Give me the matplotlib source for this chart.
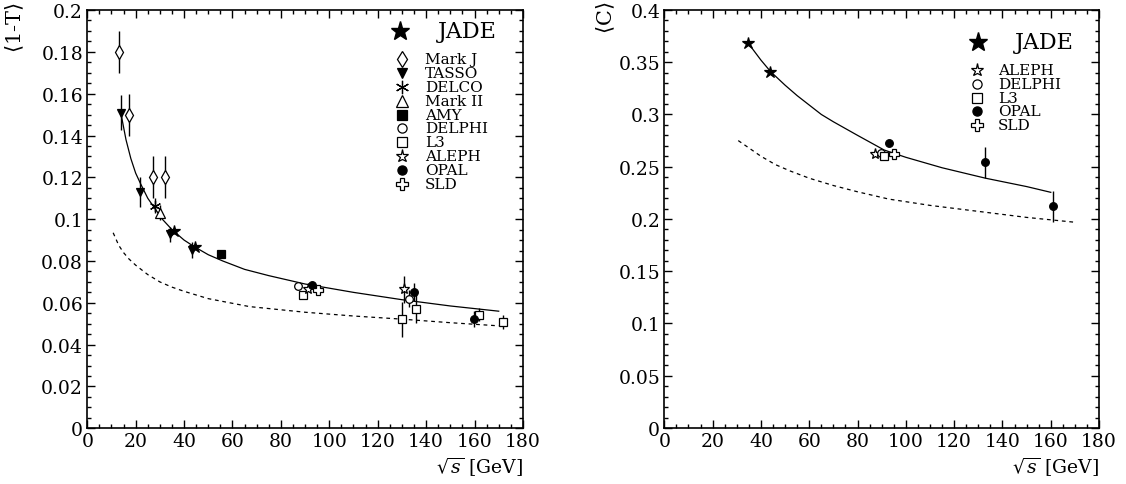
import matplotlib
matplotlib.use("Agg")
from matplotlib import pyplot as plt
from matplotlib.ticker import MultipleLocator, FormatStrFormatter

plt.rcParams['font.family'] = ['DejaVu Serif', 'Liberation Serif']
plt.rcParams['mathtext.fontset'] = 'dejavuserif'

# ---- <1-T> measurements: sqrt(s) [GeV], mean value, error ----
jade_t_x = [35.8, 44.6]
jade_t_y = [0.0943, 0.0866]
jade_t_e = [0.0015, 0.0015]

markj_x = [13.0, 17.1, 27.0, 32.1]
markj_y = [0.180, 0.150, 0.120, 0.120]
markj_e = [0.010, 0.010, 0.010, 0.010]

tasso_x = [13.9, 21.9, 34.1, 43.1]
tasso_y = [0.1509, 0.1129, 0.0928, 0.0853]
tasso_e = [0.0085, 0.0072, 0.0036, 0.0040]

delco_x = [27.8]
delco_y = [0.1065]
delco_e = [0.0037]

mark2_x = [29.9]
mark2_y = [0.1030]
mark2_e = [0.0036]

amy_x = [55.3]
amy_y = [0.0832]
amy_e = [0.0012]

delphi_t_x = [87.1, 132.8]
delphi_t_y = [0.0682, 0.0619]
delphi_t_e = [0.0008, 0.0040]

l3_t_x = [89.2, 129.9, 135.8, 161.9, 171.8]
l3_t_y = [0.0639, 0.0521, 0.0572, 0.0544, 0.0509]
l3_t_e = [0.0015, 0.0083, 0.0070, 0.0030, 0.0035]

aleph_t_x = [91.2, 130.9]
aleph_t_y = [0.0667, 0.0665]
aleph_t_e = [0.0010, 0.0064]

opal_t_x = [93.0, 134.9, 159.8]
opal_t_y = [0.0686, 0.0652, 0.0523]
opal_t_e = [0.0010, 0.0045, 0.0040]

sld_t_x = [95.4]
sld_t_y = [0.0663]
sld_t_e = [0.0012]

# fit (solid) and hadronisation-free (dashed) curves for <1-T>
fit_t_x = [14, 16, 18, 20, 22, 25, 28, 31, 35, 40, 44, 50, 56, 65, 75, 90, 110, 130, 150, 170]
fit_t_y = [0.150, 0.138, 0.129, 0.122, 0.117, 0.110, 0.105, 0.100, 0.095, 0.090, 0.087,
           0.083, 0.080, 0.076, 0.073, 0.069, 0.065, 0.0615, 0.0585, 0.056]
pt_t_x = [10.7, 13, 15, 17.2, 20, 25, 30, 35, 40, 50, 67, 90, 110, 130, 150, 170]
pt_t_y = [0.0935, 0.0875, 0.0840, 0.0810, 0.0780, 0.0735, 0.0700, 0.0675, 0.0655, 0.0620,
          0.0582, 0.0555, 0.0537, 0.0522, 0.0505, 0.0490]

# ---- <C> measurements ----
jade_c_x = [34.8, 43.8]
jade_c_y = [0.368, 0.341]
jade_c_e = [0.002, 0.002]

aleph_c_x = [87.2]
aleph_c_y = [0.262]
aleph_c_e = [0.001]

delphi_c_x = [89.5]
delphi_c_y = [0.263]
delphi_c_e = [0.001]

l3_c_x = [91.0]
l3_c_y = [0.2606]
l3_c_e = [0.003]

opal_c_x = [93.2, 132.9, 161.1]
opal_c_y = [0.2727, 0.2542, 0.2121]
opal_c_e = [0.001, 0.015, 0.015]

sld_c_x = [95.1]
sld_c_y = [0.2625]
sld_c_e = [0.001]

fit_c_x = [34.8, 40, 44, 50, 55, 60, 65, 70, 80, 91, 100, 115, 133, 150, 160]
fit_c_y = [0.368, 0.352, 0.341, 0.328, 0.318, 0.309, 0.300, 0.293, 0.280, 0.266,
           0.259, 0.249, 0.239, 0.231, 0.2255]
pt_c_x = [30.6, 35, 40, 46, 52, 60, 70, 80, 93, 110, 133, 150, 169.4]
pt_c_y = [0.275, 0.268, 0.260, 0.252, 0.246, 0.239, 0.232, 0.226, 0.219, 0.213,
          0.2064, 0.2015, 0.197]

# marker styles (ROOT-like)
STYLES = {
    "JADE":    dict(marker="*", mfc="black", ms=9),
    "Mark J":  dict(marker="d", mfc="white", ms=7),
    "TASSO":   dict(marker="v", mfc="black", ms=6),
    "DELCO":   dict(marker=(6, 2, 0), mfc="black", ms=8),
    "Mark II": dict(marker="^", mfc="white", ms=7),
    "AMY":     dict(marker="s", mfc="black", ms=5.5),
    "DELPHI":  dict(marker="o", mfc="white", ms=5.5),
    "L3":      dict(marker="s", mfc="white", ms=5.5),
    "ALEPH":   dict(marker="*", mfc="white", ms=8),
    "OPAL":    dict(marker="o", mfc="black", ms=5.5),
    "SLD":     dict(marker="P", mfc="white", ms=7),
}


def draw_points(ax, name, x, y, e):
    st = STYLES[name]
    ax.errorbar(x, y, yerr=e, fmt="none", ecolor="black", elinewidth=1.0, capsize=0, zorder=2)
    ax.plot(x, y, ls="none", marker=st["marker"], mfc=st["mfc"], mec="black",
            mew=0.9, ms=st["ms"], zorder=3)


def draw_legend(ax, names, star_xy, text_x, mark_x, y0, dy):
    ax.plot([star_xy[0]], [star_xy[1]], marker="*", color="black", ms=14,
            transform=ax.transAxes, clip_on=False)
    ax.text(text_x[0], star_xy[1], "JADE", fontsize=16, va="center", ha="left",
            transform=ax.transAxes)
    for i, name in enumerate(names):
        st = STYLES[name]
        yy = y0 - i * dy
        ax.plot([mark_x], [yy], marker=st["marker"], mfc=st["mfc"], mec="black",
                mew=0.9, ms=st["ms"] * 1.2, transform=ax.transAxes, clip_on=False)
        ax.text(text_x[1], yy, name, fontsize=11, va="center", ha="left",
                transform=ax.transAxes)


def style_axes(ax, ymax, ymajor, yminor, yfmt):
    ax.set_xlim(0, 180)
    ax.set_ylim(0, ymax)
    ax.xaxis.set_major_locator(MultipleLocator(20))
    ax.xaxis.set_minor_locator(MultipleLocator(5))
    ax.yaxis.set_major_locator(MultipleLocator(ymajor))
    ax.yaxis.set_minor_locator(MultipleLocator(yminor))
    ax.yaxis.set_major_formatter(FormatStrFormatter(yfmt))
    ax.tick_params(which="both", direction="in", top=True, right=True, width=1.0,
                   labelsize=13.5)
    ax.tick_params(which="major", length=6, pad=3)
    ax.tick_params(which="minor", length=3)
    for sp in ax.spines.values():
        sp.set_linewidth(1.2)
    ax.text(1.0, -0.092, r"$\sqrt{s}$ [GeV]", transform=ax.transAxes,
            ha="right", va="center", fontsize=13.5)


fig = plt.figure(figsize=(11.26, 4.85), dpi=100)
ax1 = fig.add_axes([0.0775, 0.1148, 0.3869, 0.8625])
ax2 = fig.add_axes([0.5900, 0.1155, 0.3861, 0.8619])

# left: thrust
ax1.plot(fit_t_x, fit_t_y, color="black", lw=0.9, zorder=1)
ax1.plot(pt_t_x, pt_t_y, color="black", lw=0.9, ls=(0, (3, 3)), zorder=1)
draw_points(ax1, "Mark J", markj_x, markj_y, markj_e)
draw_points(ax1, "TASSO", tasso_x, tasso_y, tasso_e)
draw_points(ax1, "DELCO", delco_x, delco_y, delco_e)
draw_points(ax1, "Mark II", mark2_x, mark2_y, mark2_e)
draw_points(ax1, "AMY", amy_x, amy_y, amy_e)
draw_points(ax1, "DELPHI", delphi_t_x, delphi_t_y, delphi_t_e)
draw_points(ax1, "L3", l3_t_x, l3_t_y, l3_t_e)
draw_points(ax1, "ALEPH", aleph_t_x, aleph_t_y, aleph_t_e)
draw_points(ax1, "OPAL", opal_t_x, opal_t_y, opal_t_e)
draw_points(ax1, "SLD", sld_t_x, sld_t_y, sld_t_e)
draw_points(ax1, "JADE", jade_t_x, jade_t_y, jade_t_e)
style_axes(ax1, 0.2, 0.02, 0.005, "%g")
draw_legend(ax1, ["Mark J", "TASSO", "DELCO", "Mark II", "AMY", "DELPHI", "L3",
                  "ALEPH", "OPAL", "SLD"],
            (0.718, 0.949), (0.805, 0.775), 0.722, 0.883, 0.0332)
fig.text(15 / 1126, 1 - 2 / 485, r"$\langle$1-T$\rangle$", rotation=90,
         ha="center", va="top", fontsize=15)

# right: C-parameter
ax2.plot(fit_c_x, fit_c_y, color="black", lw=0.9, zorder=1)
ax2.plot(pt_c_x, pt_c_y, color="black", lw=0.9, ls=(0, (3, 3)), zorder=1)
draw_points(ax2, "ALEPH", aleph_c_x, aleph_c_y, aleph_c_e)
draw_points(ax2, "DELPHI", delphi_c_x, delphi_c_y, delphi_c_e)
draw_points(ax2, "L3", l3_c_x, l3_c_y, l3_c_e)
draw_points(ax2, "OPAL", opal_c_x, opal_c_y, opal_c_e)
draw_points(ax2, "SLD", sld_c_x, sld_c_y, sld_c_e)
draw_points(ax2, "JADE", jade_c_x, jade_c_y, jade_c_e)
style_axes(ax2, 0.4, 0.05, 0.01, "%g")
draw_legend(ax2, ["ALEPH", "DELPHI", "L3", "OPAL", "SLD"],
            (0.722, 0.924), (0.806, 0.768), 0.720, 0.857, 0.0333)
fig.text(606 / 1126, 1 - 2 / 485, r"$\langle$C$\rangle$", rotation=90,
         ha="center", va="top", fontsize=15)

fig.savefig("out.png", dpi=100)
